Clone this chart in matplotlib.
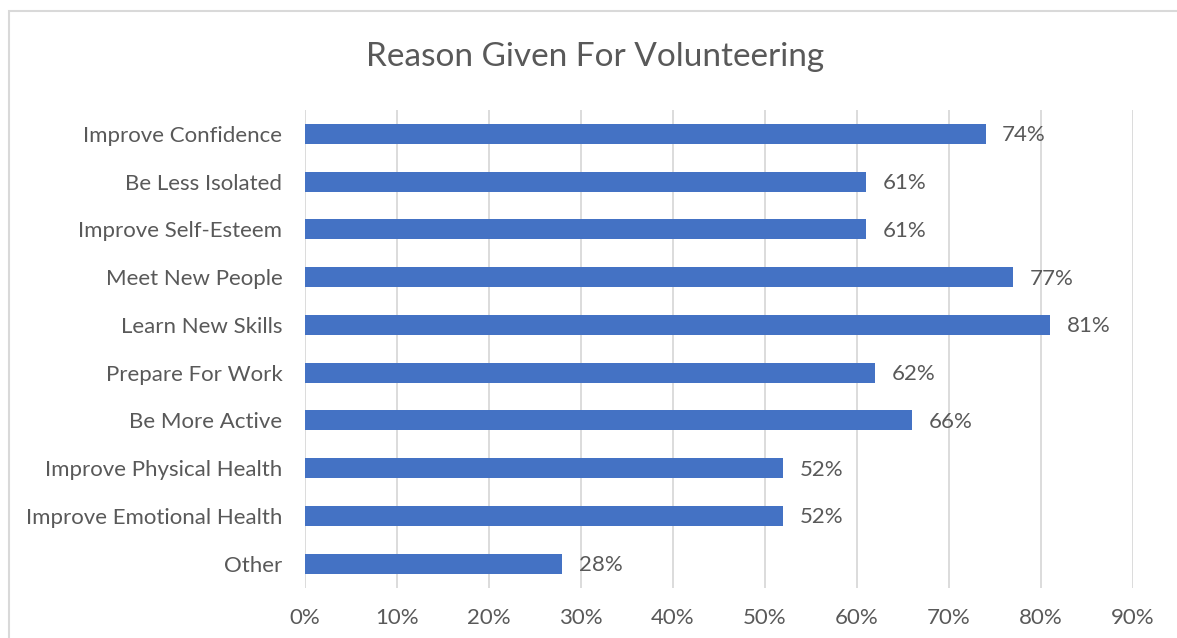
import matplotlib
matplotlib.use("Agg")
import matplotlib.pyplot as plt
from matplotlib.patches import Rectangle
from matplotlib.ticker import FuncFormatter, MultipleLocator

categories = ["Improve Confidence", "Be Less Isolated", "Improve Self-Esteem",
              "Meet New People", "Learn New Skills", "Prepare For Work",
              "Be More Active", "Improve Physical Health",
              "Improve Emotional Health", "Other"]
values = [74, 61, 61, 77, 81, 62, 66, 52, 52, 28]
title = "Reason Given For Volunteering"

plt.rcParams['font.family'] = ['Lato', 'DejaVu Sans']
text_color = "#595959"
bar_color = "#4472C4"

fig = plt.figure(figsize=(11.77, 6.38), dpi=100)
W, H = 1177, 638
ax = fig.add_axes([304.7 / W, 1 - 587.5 / H, (1132.7 - 304.7) / W, (587.5 - 110) / H])

n = len(categories)
ypos = list(range(n))
ax.barh(ypos, values, height=0.42, color=bar_color, zorder=3)
ax.set_ylim(n - 0.5, -0.5)
ax.set_xlim(0, 90)
ax.xaxis.set_major_locator(MultipleLocator(10))
ax.xaxis.set_major_formatter(FuncFormatter(lambda v, p: f"{int(round(v))}%"))
ax.set_yticks(ypos)
ax.set_yticklabels(categories)
ax.tick_params(axis='both', length=0, labelsize=16, colors=text_color)
ax.tick_params(axis='y', pad=16)
ax.tick_params(axis='x', pad=15)
ax.grid(axis='x', color="#D9D9D9", linewidth=1.3, zorder=0)
for s in ax.spines.values():
    s.set_visible(False)

for y, v in zip(ypos, values):
    ax.text(v + 1.8, y + 0.03, f"{v}%", va='center', ha='left', fontsize=16, color=text_color)

fig.text(595 / W, 1 - 57 / H, title, ha='center', va='center', fontsize=24, color=text_color)

fig.patches.append(Rectangle((8.5 / W, -0.1), 1.2, 1 - 11 / H + 0.1, transform=fig.transFigure,
                             fill=False, edgecolor="#D9D9D9", linewidth=1.5))

fig.savefig("out.png", dpi=100)
